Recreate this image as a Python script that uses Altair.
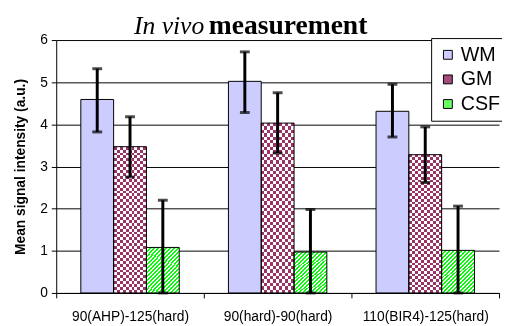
import altair as alt
import pandas as pd

categories = ["90(AHP)-125(hard)", "90(hard)-90(hard)", "110(BIR4)-125(hard)"]
tissues = ["WM", "GM", "CSF"]
wm_mean = [4.59, 5.02, 4.31]
wm_hi = [5.32, 5.72, 4.95]
wm_lo = [3.82, 4.28, 3.70]
gm_mean = [3.47, 4.03, 3.28]
gm_hi = [4.18, 4.75, 3.94]
gm_lo = [2.75, 3.32, 2.62]
csf_mean = [1.08, 0.97, 1.01]
csf_hi = [2.20, 1.98, 2.06]
csf_lo = [0.0, 0.0, 0.0]
title_parts = ["In vivo", "measurement"]

rows = []
for t, m, hi, lo in [("WM", wm_mean, wm_hi, wm_lo), ("GM", gm_mean, gm_hi, gm_lo), ("CSF", csf_mean, csf_hi, csf_lo)]:
    for c, v, h, l in zip(categories, m, hi, lo):
        rows.append({"cat": c, "tissue": t, "value": v, "hi": h, "lo": l})
df = pd.DataFrame(rows)


def stripes(c1, c2, n, x2, y2):
    stops = []
    for k in range(n):
        col = c1 if k % 2 == 0 else c2
        stops.append({"offset": k / n, "color": col})
        stops.append({"offset": (k + 1) / n, "color": col})
    return {"gradient": "linear", "x1": 0, "y1": 0, "x2": x2, "y2": y2, "stops": stops}


FONT = "Liberation Sans"

x_enc = alt.X("cat:N", sort=categories, title=None,
              scale=alt.Scale(paddingInner=0, paddingOuter=0),
              axis=alt.Axis(labelAngle=0, tickBand="extent", tickSize=5, tickColor="black",
                            domainColor="black", labelFont=FONT, labelFontSize=14,
                            labelColor="black", labelPadding=12, grid=False))
xo_enc = alt.XOffset("tissue:N", sort=tissues, scale=alt.Scale(paddingInner=0, paddingOuter=0.75))
y_enc = alt.Y("value:Q", title="Mean signal intensity (a.u.)",
              scale=alt.Scale(domain=[0, 6], nice=False, zero=True),
              axis=alt.Axis(values=[0, 1, 2, 3, 4, 5, 6], format="d", tickSize=5, tickColor="black",
                            domainColor="black", gridColor="black", gridOpacity=1,
                            labelFont=FONT, labelFontSize=14, labelColor="black", labelPadding=4,
                            titleFont=FONT, titleFontSize=14, titleFontWeight="bold",
                            titleColor="black", titlePadding=12))

base = alt.Chart(df)

colored = base.mark_bar().encode(
    x=x_enc, xOffset=xo_enc, y=y_enc,
    color=alt.Color("tissue:N", sort=tissues,
                    scale=alt.Scale(domain=tissues, range=["#CCCCFF", "#A34D78", "#66FF66"]),
                    legend=alt.Legend(title=None, orient="none", legendX=381, legendY=-2,
                                      symbolType="square", symbolSize=81, symbolStrokeColor="black",
                                      symbolStrokeWidth=1, labelFont=FONT, labelFontSize=20,
                                      labelColor="black", labelOffset=3, rowPadding=5, padding=7,
                                      fillColor="white", strokeColor="black", cornerRadius=0)),
)

def layer_for(tissue, **mk):
    return base.transform_filter(alt.datum.tissue == tissue).mark_bar(**mk).encode(
        x=x_enc, xOffset=xo_enc, y=y_enc)

gm1 = layer_for("GM", fill=stripes("#000000", "#FFFFFF", 11, 1, 0))
gm2 = layer_for("GM", fill=stripes("#000000", "#FFFFFF", 50, 0, 1), blend="difference")
gm3 = layer_for("GM", fill="#993366", blend="screen")
csf1 = layer_for("CSF", fill=stripes("#00FF00", "#FFFFFF", 46, 1, 1.33))

outline = base.mark_bar(fillOpacity=0, stroke="black", strokeWidth=1).encode(
    x=x_enc, xOffset=xo_enc, y=y_enc)

err = base.mark_rule(color="black", strokeWidth=3).encode(
    x=x_enc, xOffset=xo_enc, y=alt.Y("lo:Q"), y2="hi:Q")
cap_hi = base.mark_tick(color="black", thickness=3, size=10).encode(
    x=x_enc, xOffset=xo_enc, y=alt.Y("hi:Q"))
cap_lo = base.mark_tick(color="black", thickness=3, size=10).encode(
    x=x_enc, xOffset=xo_enc, y=alt.Y("lo:Q"))

tdf = pd.DataFrame({"t": title_parts})
t1 = alt.Chart(tdf).transform_filter(alt.datum.t == title_parts[0]).mark_text(
    font="Liberation Serif", fontSize=26, fontStyle="italic", align="left", baseline="alphabetic",
    color="black").encode(x=alt.value(79), y=alt.value(-6), text="t:N")
t2 = alt.Chart(tdf).transform_filter(alt.datum.t == title_parts[1]).mark_text(
    font="Liberation Serif", fontSize=28, fontWeight="bold", align="left", baseline="alphabetic",
    color="black").encode(x=alt.value(155), y=alt.value(-6), text="t:N")

chart = alt.layer(colored, gm1, gm2, gm3, csf1, outline, err, cap_hi, cap_lo, t1, t2).properties(
    width=450, height=257, autosize="none",
    padding={"left": 49, "top": 30, "right": 3, "bottom": 30},
    background="white",
).configure_view(stroke=None)

chart.save("out.html", embed_options={"renderer": "svg", "actions": False})
